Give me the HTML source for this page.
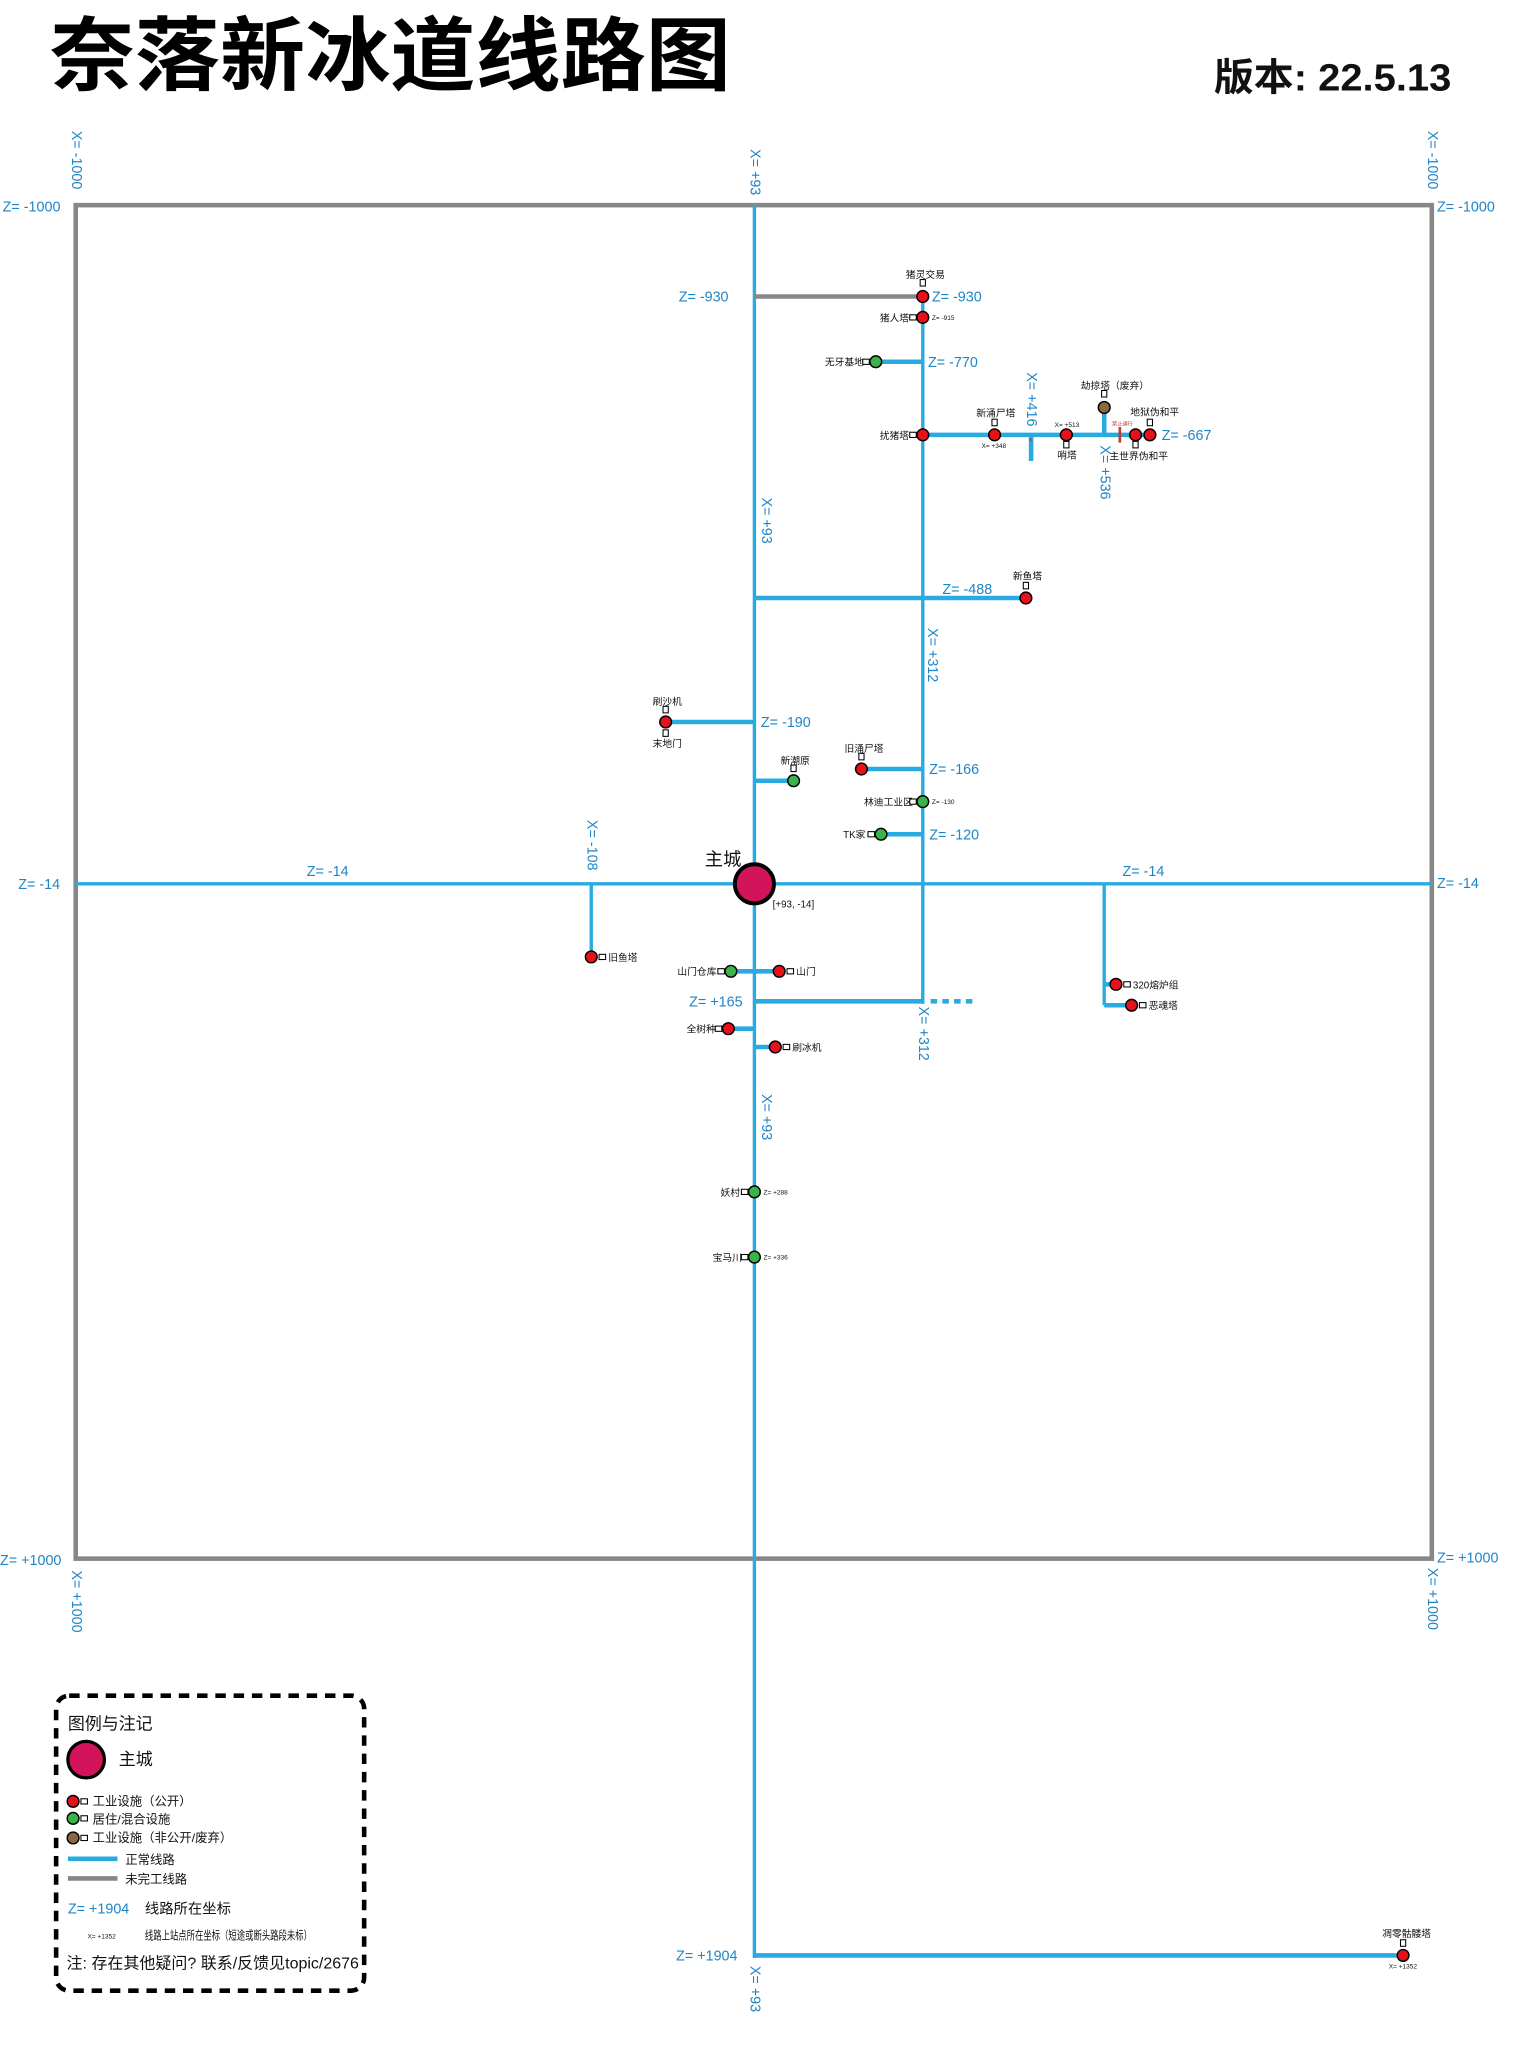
<!DOCTYPE html>
<html><head><meta charset="utf-8"><style>
html,body{margin:0;padding:0;background:#fff;}
svg{display:block;}
text{font-family:"Liberation Sans","Noto Sans CJK SC",sans-serif;}
.b{fill:#1f86c6;font-size:11px;}
.k{fill:#111;font-size:7.5px;}
.t{fill:#111;font-size:5px;}
.L{stroke:#29abe2;stroke-width:3.5;fill:none;}
.Lt{stroke:#29abe2;stroke-width:2.6;fill:none;}
.r{fill:#e8101a;stroke:#000;stroke-width:1.1;}
.g{fill:#3cb34a;stroke:#000;stroke-width:1.1;}
.br{fill:#8b6740;stroke:#000;stroke-width:1.1;}
.c{fill:#fff;stroke:#000;stroke-width:0.8;}
</style></head><body>
<svg width="1531" height="2047" viewBox="0 0 1173 1568" xmlns="http://www.w3.org/2000/svg">
<rect width="1173" height="1568" fill="#fff"/>
<text x="38" y="64" textLength="522" lengthAdjust="spacingAndGlyphs" style="font-size:62px;font-weight:bold;fill:#000">奈落新冰道线路图</text>
<text x="930" y="69" textLength="182" lengthAdjust="spacingAndGlyphs" style="font-size:29px;font-weight:bold;fill:#111">版本: 22.5.13</text>

<rect x="58" y="157" width="1039" height="1037" fill="none" stroke="#878787" stroke-width="3.5"/>

<line class="Lt" x1="578" y1="157" x2="578" y2="1500"/>
<line class="L" x1="578" y1="1498" x2="1075" y2="1498"/>
<line class="Lt" x1="58" y1="677" x2="1097" y2="677"/>
<line class="Lt" x1="707" y1="227" x2="707" y2="769"/>
<line stroke="#878787" stroke-width="3.5" x1="578" y1="227" x2="707" y2="227"/>
<line class="L" x1="671" y1="277" x2="707" y2="277"/>
<line class="L" x1="707" y1="333" x2="882" y2="333"/>
<line class="L" x1="790" y1="333" x2="790" y2="353"/>
<line class="L" x1="846" y1="312" x2="846" y2="333"/>
<line class="L" x1="578" y1="458" x2="786" y2="458"/>
<line class="L" x1="510" y1="553" x2="578" y2="553"/>
<line class="L" x1="578" y1="598" x2="608" y2="598"/>
<line class="L" x1="660" y1="589" x2="707" y2="589"/>
<line class="L" x1="675" y1="639" x2="707" y2="639"/>
<line class="Lt" x1="453" y1="677" x2="453" y2="733"/>
<line class="L" x1="560" y1="744" x2="597" y2="744"/>
<line class="L" x1="578" y1="767" x2="707" y2="767"/>
<line stroke="#29abe2" stroke-width="3.5" stroke-dasharray="5,4" x1="713" y1="767" x2="748" y2="767"/>
<line class="L" x1="558" y1="788" x2="578" y2="788"/>
<line class="L" x1="578" y1="802" x2="594" y2="802"/>
<line class="Lt" x1="846" y1="677" x2="846" y2="770"/>
<line class="L" x1="846" y1="754" x2="855" y2="754"/>
<line class="L" x1="846" y1="770" x2="867" y2="770"/>

<line stroke="#c0392b" stroke-width="2" x1="858" y1="327" x2="858" y2="339"/>
<text x="852" y="326" style="font-size:4px;fill:#d03030">禁止通行</text>
<text x="788" y="339" style="font-size:6px;fill:#c03040">×</text>
<text x="844" y="318" style="font-size:6px;fill:#c03040">×</text>

<circle cx="578" cy="677" r="15" fill="#d4145a" stroke="#000" stroke-width="3"/>
<text x="540" y="663" style="font-size:14px;fill:#111">主城</text>
<text x="592" y="695" class="k">[+93, -14]</text>

<g>
<rect class="c" x="705" y="214" width="4" height="5"/><circle class="r" cx="707" cy="227" r="4.5"/>
<text x="694" y="213" class="k">猪灵交易</text>
<rect class="c" x="697" y="241" width="5" height="4"/><circle class="r" cx="707" cy="243" r="4.5"/>
<text x="674" y="246" class="k">猪人塔</text><text x="714" y="245" class="t">Z= -915</text>
<rect class="c" x="661" y="275" width="5" height="4"/><circle class="g" cx="671" cy="277" r="4.5"/>
<text x="632" y="280" class="k">无牙基地</text>
<rect class="c" x="697" y="331" width="5" height="4"/><circle class="r" cx="707" cy="333" r="4.5"/>
<text x="674" y="336" class="k">扰猪塔</text>
<rect class="c" x="760" y="321" width="4" height="5"/><circle class="r" cx="762" cy="333" r="4.5"/>
<text x="748" y="319" class="k">新涌尸塔</text><text x="752" y="343" class="t">X= +348</text>
<rect class="c" x="815" y="338" width="4" height="5"/><circle class="r" cx="817" cy="333" r="4.5"/>
<text x="808" y="327" class="t">X= +513</text><text x="810" y="351" class="k">哨塔</text>
<rect class="c" x="844" y="299" width="4" height="5"/><circle class="br" cx="846" cy="312" r="4.5"/>
<text x="828" y="298" class="k">劫掠塔（废弃）</text>
<rect class="c" x="868" y="338" width="4" height="5"/><circle class="r" cx="870" cy="333" r="4.5"/>
<text x="850" y="352" class="k">主世界伪和平</text>
<rect class="c" x="879" y="321" width="4" height="5"/><circle class="r" cx="881" cy="333" r="4.5"/>
<text x="866" y="318" class="k">地狱伪和平</text>
<rect class="c" x="784" y="446" width="4" height="5"/><circle class="r" cx="786" cy="458" r="4.5"/>
<text x="776" y="444" class="k">新鱼塔</text>
<rect class="c" x="508" y="541" width="4" height="5"/><rect class="c" x="508" y="559" width="4" height="5"/><circle class="r" cx="510" cy="553" r="4.5"/>
<text x="500" y="540" class="k">刷沙机</text><text x="500" y="572" class="k">末地门</text>
<rect class="c" x="606" y="586" width="4" height="5"/><circle class="g" cx="608" cy="598" r="4.5"/>
<text x="598" y="585" class="k">新潮原</text>
<rect class="c" x="658" y="577" width="4" height="5"/><circle class="r" cx="660" cy="589" r="4.5"/>
<text x="647" y="576" class="k">旧涌尸塔</text>
<rect class="c" x="697" y="612" width="5" height="4"/><circle class="g" cx="707" cy="614" r="4.5"/>
<text x="662" y="617" class="k">林迪工业区</text><text x="714" y="616" class="t">Z= -130</text>
<rect class="c" x="665" y="637" width="5" height="4"/><circle class="g" cx="675" cy="639" r="4.5"/>
<text x="646" y="642" class="k">TK家</text>
<circle class="r" cx="453" cy="733" r="4.5"/><rect class="c" x="459" y="731" width="5" height="4"/>
<text x="466" y="736" class="k">旧鱼塔</text>
<rect class="c" x="550" y="742" width="5" height="4"/><circle class="g" cx="560" cy="744" r="4.5"/>
<text x="519" y="747" class="k">山门仓库</text>
<circle class="r" cx="597" cy="744" r="4.5"/><rect class="c" x="603" y="742" width="5" height="4"/>
<text x="610" y="747" class="k">山门</text>
<rect class="c" x="548" y="786" width="5" height="4"/><circle class="r" cx="558" cy="788" r="4.5"/>
<text x="526" y="791" class="k">全树种</text>
<circle class="r" cx="594" cy="802" r="4.5"/><rect class="c" x="600" y="800" width="5" height="4"/>
<text x="607" y="805" class="k">刷冰机</text>
<circle class="r" cx="855" cy="754" r="4.5"/><rect class="c" x="861" y="752" width="5" height="4"/>
<text x="868" y="757" class="k">320熔炉组</text>
<circle class="r" cx="867" cy="770" r="4.5"/><rect class="c" x="873" y="768" width="5" height="4"/>
<text x="880" y="773" class="k">恶魂塔</text>
<rect class="c" x="568" y="911" width="5" height="4"/><circle class="g" cx="578" cy="913" r="4.5"/>
<text x="552" y="916" class="k">妖村</text><text x="585" y="915" class="t">Z= +288</text>
<rect class="c" x="568" y="961" width="5" height="4"/><circle class="g" cx="578" cy="963" r="4.5"/>
<text x="546" y="966" class="k">宝马川</text><text x="585" y="965" class="t">Z= +336</text>
<rect class="c" x="1073" y="1486" width="4" height="5"/><circle class="r" cx="1075" cy="1498" r="4.5"/>
<text x="1059" y="1484" class="k">凋零骷髅塔</text><text x="1064" y="1508" class="t">X= +1352</text>
</g>

<text x="520" y="231" class="b">Z= -930</text>
<text x="714" y="231" class="b">Z= -930</text>
<text x="711" y="281" class="b">Z= -770</text>
<text x="890" y="337" class="b">Z= -667</text>
<text x="722" y="455" class="b">Z= -488</text>
<text x="583" y="557" class="b">Z= -190</text>
<text x="712" y="593" class="b">Z= -166</text>
<text x="712" y="643" class="b">Z= -120</text>
<text x="235" y="671" class="b">Z= -14</text>
<text x="860" y="671" class="b">Z= -14</text>
<text x="14" y="681" class="b">Z= -14</text>
<text x="1101" y="680" class="b">Z= -14</text>
<text x="528" y="771" class="b">Z= +165</text>
<text x="518" y="1502" class="b">Z= +1904</text>
<text x="2" y="162" class="b">Z= -1000</text>
<text x="1101" y="162" class="b">Z= -1000</text>
<text x="0" y="1199" class="b">Z= +1000</text>
<text x="1101" y="1197" class="b">Z= +1000</text>

<g>
<text transform="translate(55,100) rotate(90)" class="b">X= -1000</text>
<text transform="translate(1094,100) rotate(90)" class="b">X= -1000</text>
<text transform="translate(55,1203) rotate(90)" class="b">X= +1000</text>
<text transform="translate(1094,1201) rotate(90)" class="b">X= +1000</text>
<text transform="translate(575,114) rotate(90)" class="b">X= +93</text>
<text transform="translate(584,381) rotate(90)" class="b">X= +93</text>
<text transform="translate(584,838) rotate(90)" class="b">X= +93</text>
<text transform="translate(575,1506) rotate(90)" class="b">X= +93</text>
<text transform="translate(787,285) rotate(90)" class="b">X= +416</text>
<text transform="translate(843,341) rotate(90)" class="b">X= +536</text>
<text transform="translate(711,481) rotate(90)" class="b">X= +312</text>
<text transform="translate(704,771) rotate(90)" class="b">X= +312</text>
<text transform="translate(450,628) rotate(90)" class="b">X= -108</text>
</g>

<rect x="43" y="1299" width="236" height="226" rx="10" fill="none" stroke="#000" stroke-width="3.5" stroke-dasharray="8,6"/>
<text x="52" y="1325" style="font-size:13px;fill:#111">图例与注记</text>
<circle cx="66" cy="1348" r="14" fill="#d4145a" stroke="#000" stroke-width="2.5"/>
<text x="91" y="1352" style="font-size:13px;fill:#111">主城</text>
<circle class="r" cx="56" cy="1380" r="4.5"/><rect class="c" x="62" y="1378" width="5" height="4"/>
<text x="71" y="1383" style="font-size:9.5px;fill:#111">工业设施（公开）</text>
<circle class="g" cx="56" cy="1393" r="4.5"/><rect class="c" x="62" y="1391" width="5" height="4"/>
<text x="71" y="1397" style="font-size:9.5px;fill:#111">居住/混合设施</text>
<circle class="br" cx="56" cy="1408" r="4.5"/><rect class="c" x="62" y="1406" width="5" height="4"/>
<text x="71" y="1411" style="font-size:9.5px;fill:#111">工业设施（非公开/废弃）</text>
<line class="L" x1="52" y1="1424" x2="90" y2="1424"/>
<text x="96" y="1428" style="font-size:9.5px;fill:#111">正常线路</text>
<line stroke="#878787" stroke-width="3.5" x1="52" y1="1439" x2="90" y2="1439"/>
<text x="96" y="1443" style="font-size:9.5px;fill:#111">未完工线路</text>
<text x="52" y="1466" class="b">Z= +1904</text>
<text x="111" y="1466" style="font-size:11px;fill:#111">线路所在坐标</text>
<text x="67" y="1485" class="t">X= +1352</text>
<text x="111" y="1486" textLength="128" lengthAdjust="spacingAndGlyphs" style="font-size:9px;fill:#111">线路上站点所在坐标（短途或断头路段未标）</text>
<text x="51" y="1508" textLength="224" lengthAdjust="spacingAndGlyphs" style="font-size:12px;fill:#111">注: 存在其他疑问? 联系/反馈见topic/2676</text>
</svg>
</body></html>
